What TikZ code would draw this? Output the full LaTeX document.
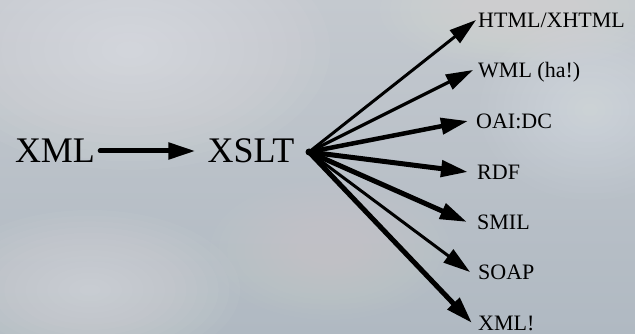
\documentclass[tikz,border=0pt]{standalone}
\usepackage{fontspec}
\setmainfont{Liberation Serif}
\usetikzlibrary{arrows.meta}
\definecolor{sky}{HTML}{B0B9C2}
\definecolor{skylight}{HTML}{C4C9CF}
\tikzset{
  big/.style={font=\fontsize{36}{36}\selectfont, inner sep=0pt},
  lab/.style={font=\fontsize{22}{22}\selectfont, inner sep=0pt, anchor=west, text height=14.6pt, text depth=0pt},
  arr/.style={draw=black, -{Triangle[length=27pt,width=16pt]}, line cap=round},
}
\newcommand{\softcloud}[5]{% x y rx ry opacity-step
  \foreach \k in {1,...,14}{
    \fill[white, opacity=#5] (#1,#2) ellipse ({#3*\k/14} and {#4*\k/14});
  }
}
\begin{document}
\begin{tikzpicture}[x=1pt,y=-1pt]
\useasboundingbox (0,0) rectangle (635,334);
% sky background
\shade[top color=skylight, bottom color=sky] (0,0) rectangle (635,334);
\softcloud{130}{50}{200}{120}{0.035}
\softcloud{90}{290}{150}{80}{0.03}
\softcloud{590}{110}{110}{90}{0.025}
\softcloud{520}{10}{140}{60}{0.02}
\softcloud{330}{250}{120}{70}{0.015}
% nodes
\node[big] (xml) at (55,151) {XML};
\node[big] (xslt) at (251,151) {XSLT};
\coordinate (hub) at (309,152);
\node[lab] (html) at (478,20) {HTML/XHTML};
\node[lab] (wml) at (478,70) {WML (ha!)};
\node[lab] (oai) at (476,121) {OAI:DC};
\node[lab] (rdf) at (477,172) {RDF};
\node[lab] (smil) at (477,222) {SMIL};
\node[lab] (soap) at (478,272) {SOAP};
\node[lab] (xmlx) at (478,323) {XML!};
% connectors
\draw[arr, line width=5pt, shorten <=5pt, shorten >=12pt] (xml.east) -- (xslt.west);
\fill (hub) circle (3.5pt);
\draw[arr, line width=3pt] (hub) -- ([xshift=-2pt]html.west);
\draw[arr, line width=3.2pt] (hub) -- ([xshift=-5pt]wml.west);
\draw[arr, line width=4.5pt] (hub) -- ([xshift=-8pt]oai.west);
\draw[arr, line width=5pt] (hub) -- ([xshift=-9pt]rdf.west);
\draw[arr, line width=5pt] (hub) -- ([xshift=-10pt]smil.west);
\draw[arr, line width=3pt] (hub) -- ([xshift=-8pt]soap.west);
\draw[arr, line width=5pt] (hub) -- ([xshift=-6pt]xmlx.west);
\end{tikzpicture}
\end{document}
